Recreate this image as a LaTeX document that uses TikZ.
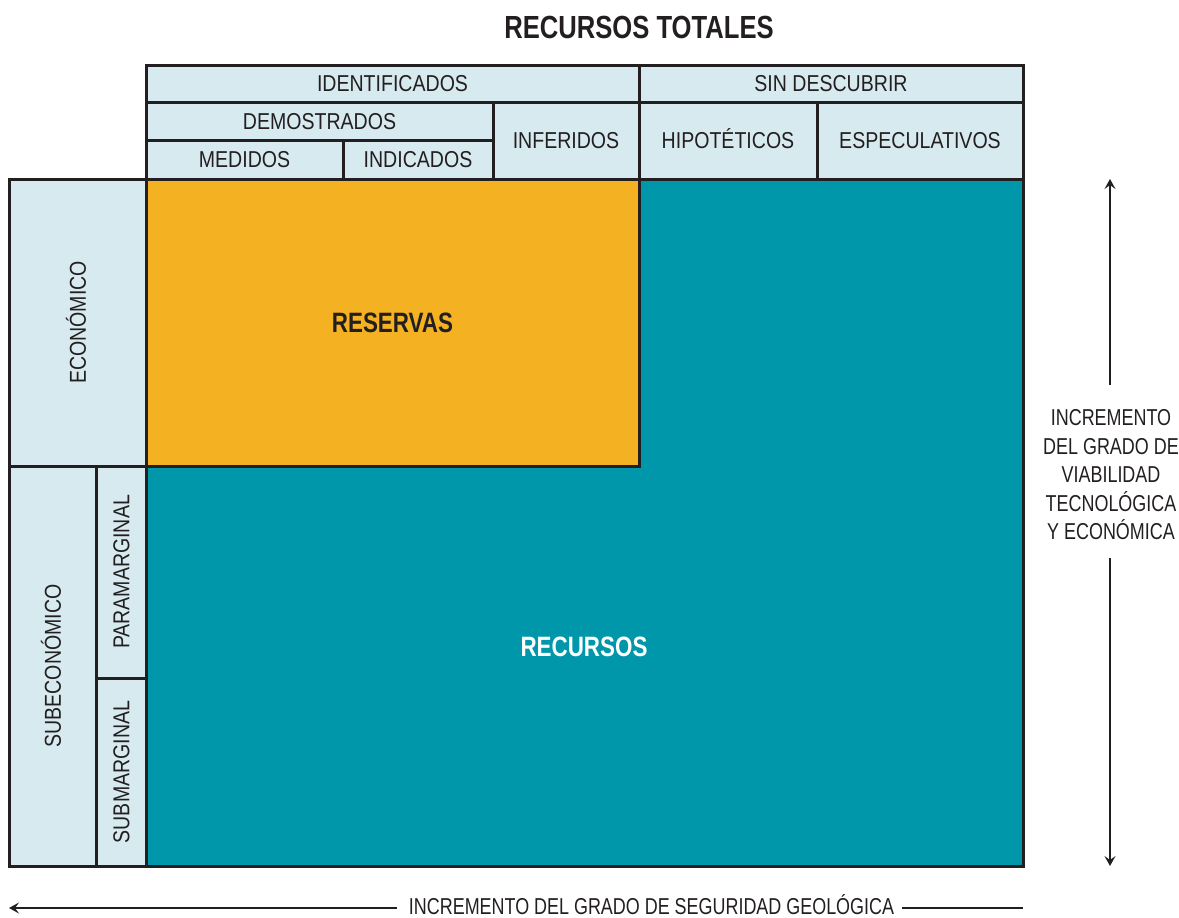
\documentclass[tikz,border=0pt]{standalone}
\usepackage{fontspec}
\setmainfont{Liberation Sans}
\newfontfamily\cellfont{Liberation Sans}[FakeStretch=0.85]
\newfontfamily\thinfont{Liberation Sans}[FakeStretch=0.78]
\newfontfamily\boldfont{Liberation Sans Bold}[FakeStretch=0.8]
\usetikzlibrary{arrows.meta}

\definecolor{ink}{HTML}{231F20}
\definecolor{paleblue}{HTML}{D7EAF0}
\definecolor{amber}{HTML}{F4B223}
\definecolor{tealfill}{HTML}{0097AB}

\begin{document}
\begin{tikzpicture}[x=1pt, y=-1pt,
  box/.style={draw=ink, line width=3pt, inner sep=0pt, outer sep=0pt, anchor=north west},
  cell/.style={box, fill=paleblue, text=ink,
    font=\cellfont\fontsize{23}{23}\selectfont, text height=16.5pt, text depth=0pt},
  vcell/.style={cell, anchor=center, rotate=90},
  bigtext/.style={font=\boldfont\fontsize{28}{28}\selectfont, text height=20pt, text depth=0pt},
  sidetext/.style={text=ink, inner sep=0pt, font=\thinfont\fontsize{23}{28.5}\selectfont},
  arr/.style={draw=ink, line width=2.6pt, -{Stealth[length=10pt, width=11pt, inset=4pt]}}
]
\useasboundingbox (0,0) rectangle (1179,918);

% title
\node[font=\boldfont\fontsize{32}{32}\selectfont, text=ink, text height=23pt, text depth=0pt]
  (title) at (639,27) {RECURSOS TOTALES};

% resource field: teal background with the reserves block on top
\node[box, fill=tealfill, minimum width=877pt, minimum height=687pt] (campo) at (146,179) {};
\node[box, fill=amber, minimum width=493pt, minimum height=287pt, bigtext, text=ink]
  (reservas) at (146,179) {RESERVAS};
\node[bigtext, text=white] (recursos) at (584,646) {RECURSOS};

% column headers (geological assurance)
\node[cell, minimum width=493pt, minimum height=37pt] (identificados) at (146,65) {IDENTIFICADOS};
\node[cell, minimum width=384pt, minimum height=37pt] (sindescubrir) at (639,65) {SIN DESCUBRIR};
\node[cell, minimum width=347pt, minimum height=38pt] (demostrados) at (146,102) {DEMOSTRADOS};
\node[cell, minimum width=197pt, minimum height=39pt] (medidos) at (146,140) {MEDIDOS};
\node[cell, minimum width=150pt, minimum height=39pt] (indicados) at (343,140) {INDICADOS};
\node[cell, minimum width=146pt, minimum height=77pt] (inferidos) at (493,102) {INFERIDOS};
\node[cell, minimum width=178pt, minimum height=77pt] (hipoteticos) at (639,102) {HIPOTÉTICOS};
\node[cell, minimum width=206pt, minimum height=77pt] (especulativos) at (817,102) {ESPECULATIVOS};

% row headers (economic feasibility)
\node[vcell, minimum width=287pt, minimum height=137pt] (economico) at (77.5,322.5) {ECONÓMICO};
\node[vcell, minimum width=400pt, minimum height=87pt] (subeconomico) at (52.5,666) {SUBECONÓMICO};
\node[vcell, minimum width=212pt, minimum height=50pt] (paramarginal) at (121,572) {PARAMARGINAL};
\node[vcell, minimum width=188pt, minimum height=50pt] (submarginal) at (121,772) {SUBMARGINAL};

% vertical axis: technological and economic feasibility
\coordinate (vtop) at (1110,179);
\coordinate (vbot) at (1110,866);
\node[sidetext, align=center] (viabilidad) at (1111,475)
  {INCREMENTO\\DEL GRADO DE\\VIABILIDAD\\TECNOLÓGICA\\Y ECONÓMICA};
\draw[arr, shorten <=25pt] (viabilidad.north -| vtop) -- (vtop);
\draw[arr, shorten <=18pt] (viabilidad.south -| vbot) -- (vbot);

% horizontal axis: geological assurance
\coordinate (hleft) at (9,908);
\coordinate (hright) at (1023,908);
\node[sidetext, text height=16.5pt, text depth=0pt] (seguridad) at (651.5,906)
  {INCREMENTO DEL GRADO DE SEGURIDAD GEOLÓGICA};
\draw[arr, shorten <=12pt] (seguridad.west |- hleft) -- (hleft);
\draw[draw=ink, line width=2.6pt, shorten <=8pt] (seguridad.east |- hright) -- (hright);
\end{tikzpicture}
\end{document}
